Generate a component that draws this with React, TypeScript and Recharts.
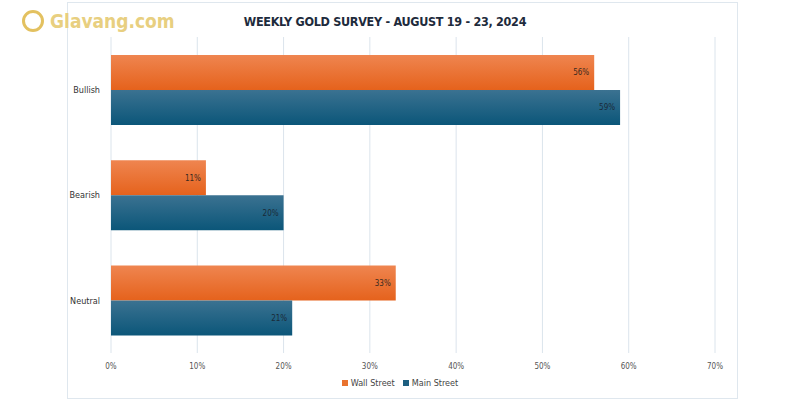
import { BarChart, Bar, XAxis, YAxis, CartesianGrid, LabelList } from 'recharts';

const CATEGORIES = ['Bullish', 'Bearish', 'Neutral'];
const WALL_STREET = [56, 11, 33];
const MAIN_STREET = [59, 20, 21];
const X_TICKS = [0, 10, 20, 30, 40, 50, 60, 70];

const data = CATEGORIES.map((name, i) => ({
  name,
  wall: WALL_STREET[i],
  main: MAIN_STREET[i],
}));

const FONT = '"DejaVu Sans Condensed", "Roboto", sans-serif';

const LEGEND_ITEMS = [
  { label: 'Wall Street', color: '#e9732f' },
  { label: 'Main Street', color: '#1d5f80' },
];

export default function App() {
  return (
    <div style={{ position: 'absolute', left: 0, top: 0, width: 800, height: 400, background: '#fff' }}>
      <div
        style={{
          position: 'absolute',
          left: 67,
          top: 2,
          width: 669,
          height: 395,
          border: '1px solid #dfe7ee',
        }}
      />
      <div
        style={{
          position: 'absolute',
          left: 22,
          top: 10,
          display: 'flex',
          alignItems: 'center',
          gap: 6,
          fontFamily: FONT,
          fontWeight: 'bold',
          fontSize: 19,
          color: '#e8cf80',
        }}
      >
        <span
          style={{
            width: 22,
            height: 22,
            borderRadius: '50%',
            border: '3px solid #e3c160',
            boxSizing: 'border-box',
            display: 'inline-block',
          }}
        />
        <span>Glavang.com</span>
      </div>
      <div
        style={{
          position: 'absolute',
          left: 0,
          width: 770,
          top: 14,
          textAlign: 'center',
          fontFamily: FONT,
          fontWeight: 'bold',
          fontSize: 12.5,
          letterSpacing: -0.3,
          color: '#1e2b3c',
        }}
      >
        WEEKLY GOLD SURVEY - AUGUST 19 - 23, 2024
      </div>
      <BarChart
        width={800}
        height={400}
        data={data}
        layout="vertical"
        margin={{ top: 37, right: 85, left: 0, bottom: 17 }}
        barCategoryGap="17%"
        barGap={0}
        style={{ position: 'absolute', left: 0, top: 0 }}
      >
        <defs>
          <linearGradient id="gradWall" x1="0" y1="0" x2="0" y2="1">
            <stop offset="0%" stopColor="#ef8550" />
            <stop offset="100%" stopColor="#e5621c" />
          </linearGradient>
          <linearGradient id="gradMain" x1="0" y1="0" x2="0" y2="1">
            <stop offset="0%" stopColor="#3b7291" />
            <stop offset="100%" stopColor="#0b5679" />
          </linearGradient>
        </defs>
        <CartesianGrid vertical horizontal={false} stroke="#dbe4ec" />
        <XAxis
          type="number"
          domain={[0, 70]}
          ticks={X_TICKS}
          tickFormatter={(v: number) => `${v}%`}
          axisLine={false}
          tickLine={false}
          height={30}
          tick={{ fontSize: 8, fill: '#555', fontFamily: FONT }}
          tickMargin={4}
        />
        <YAxis
          type="category"
          dataKey="name"
          width={111}
          axisLine={false}
          tickLine={false}
          tick={{ fontSize: 9, fill: '#333', fontFamily: FONT }}
          tickMargin={5}
        />
        <Bar dataKey="wall" name="Wall Street" fill="url(#gradWall)" isAnimationActive={false}>
          <LabelList
            dataKey="wall"
            position="insideRight"
            formatter={(v: number) => `${v}%`}
            style={{ fontSize: 8, fill: '#3a2a20', fontFamily: FONT }}
          />
        </Bar>
        <Bar dataKey="main" name="Main Street" fill="url(#gradMain)" isAnimationActive={false}>
          <LabelList
            dataKey="main"
            position="insideRight"
            formatter={(v: number) => `${v}%`}
            style={{ fontSize: 8, fill: '#1a2a38', fontFamily: FONT }}
          />
        </Bar>
      </BarChart>
      <div
        style={{
          position: 'absolute',
          left: 0,
          width: 800,
          top: 378,
          display: 'flex',
          justifyContent: 'center',
          gap: 8,
          fontFamily: FONT,
          fontSize: 9,
          color: '#444',
        }}
      >
        {LEGEND_ITEMS.map((it) => (
          <div key={it.label} style={{ display: 'flex', alignItems: 'center', gap: 3 }}>
            <span style={{ width: 6, height: 6, background: it.color, display: 'inline-block' }} />
            <span>{it.label}</span>
          </div>
        ))}
      </div>
    </div>
  );
}
